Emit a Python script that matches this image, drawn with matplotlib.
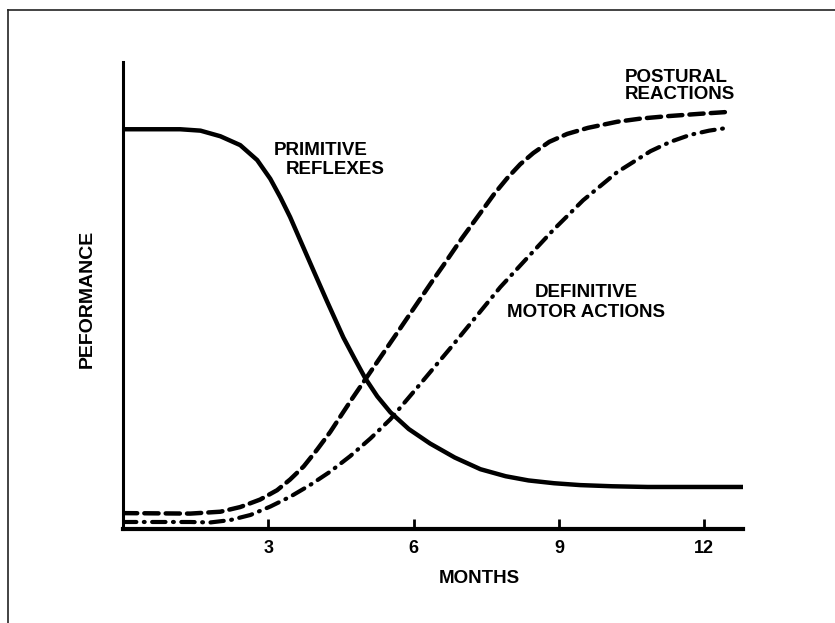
import matplotlib
matplotlib.use("Agg")
import matplotlib.pyplot as plt
from matplotlib.lines import Line2D

# months / performance
reflex_x = [0, 1.18, 1.60, 2.01, 2.42, 2.77, 3.04, 3.25, 3.45, 3.66, 3.93, 4.21,
            4.55, 4.78, 5.0, 5.25, 5.52, 5.9, 6.34, 6.85, 7.38, 7.90, 8.37, 8.9,
            9.44, 10.1, 10.83, 11.8, 12.81]
reflex_y = [85.6, 85.6, 85.3, 84.1, 82.2, 79.0, 75.0, 71.0, 66.8, 61.8, 55.4, 48.8,
            41.0, 36.5, 32.3, 28.4, 25.0, 21.4, 18.3, 15.3, 12.8, 11.3, 10.4, 9.8,
            9.4, 9.15, 9.0, 9.0, 9.0]

postural_x = [0, 1.39, 2.01, 2.42, 2.83, 3.18, 3.45, 3.73, 4.0, 4.28, 4.52, 4.73,
              5.0, 5.66, 6.40, 6.61, 7.0, 7.38, 7.66, 7.93, 8.2, 8.47, 8.8, 9.17,
              9.6, 10.2, 10.7, 11.24, 11.9, 12.48]
postural_y = [3.4, 3.3, 3.7, 4.7, 6.3, 8.3, 10.6, 13.4, 16.9, 20.8, 24.6, 27.9,
              32.0, 42.0, 53.3, 56.4, 62.3, 67.7, 71.7, 75.1, 78.1, 80.5, 82.9, 84.6,
              85.9, 87.2, 87.9, 88.4, 88.9, 89.3]

motor_x = [0, 1.39, 1.80, 2.21, 2.63, 3.04, 3.45, 3.86, 4.28, 4.69, 5.11, 5.52,
           6.10, 6.78, 7.3, 7.79, 8.35, 8.88, 9.50, 10.2, 10.89, 11.3, 11.71, 12.1,
           12.48]
motor_y = [1.5, 1.5, 1.4, 1.9, 3.0, 4.8, 6.9, 9.4, 12.3, 15.6, 19.4, 23.5,
           30.6, 39.0, 45.6, 51.8, 58.1, 64.0, 70.4, 76.4, 80.9, 82.9, 84.4, 85.3,
           85.9]

month_ticks = [3, 6, 9, 12]

plt.rcParams["font.family"] = ["Liberation Sans", "DejaVu Sans"]
plt.rcParams["font.weight"] = "bold"
fs_lab = 13.5

fig = plt.figure(figsize=(8.35, 6.23), dpi=100)
ax = fig.add_axes([123 / 835, 94 / 623, 620 / 835, 467 / 623])

ax.plot(reflex_x, reflex_y, color="black", lw=3.2,
        solid_capstyle="butt", solid_joinstyle="round")
ax.plot(postural_x, postural_y, color="black", lw=3.2,
        linestyle=(0, (3.2, 1.6)), dash_capstyle="round", dash_joinstyle="round")
ax.plot(motor_x, motor_y, color="black", lw=3.0,
        linestyle=(0, (3.2, 1.8, 0.2, 1.8)), dash_capstyle="round",
        dash_joinstyle="round")

ax.set_xlim(0, 12.8)
ax.set_ylim(0, 100)
for s in ["top", "right"]:
    ax.spines[s].set_visible(False)
ax.spines["left"].set_linewidth(2.2)
ax.spines["bottom"].set_linewidth(3)
ax.set_xticks(month_ticks)
ax.set_xticklabels([str(t) for t in month_ticks], fontsize=13, fontweight="bold")
ax.set_yticks([])
ax.tick_params(axis="x", direction="in", length=7.5, width=2, pad=8)

ax.set_xlabel("MONTHS", fontsize=fs_lab, fontweight="bold")
ax.xaxis.set_label_coords(0.574, -0.1165)
ax.xaxis.label.set_va("baseline")
ax.set_ylabel("PEFORMANCE", fontsize=14, fontweight="bold")
ax.yaxis.set_label_coords(-0.057, 0.4925)
ax.yaxis.label.set_va("center")

# curve labels
ax.text(3.11, 80.1, "PRIMITIVE", fontsize=fs_lab, fontweight="bold", va="baseline")
ax.text(3.37, 76.0, "REFLEXES", fontsize=fs_lab, fontweight="bold", va="baseline")
ax.text(10.35, 95.8, "POSTURAL", fontsize=fs_lab, fontweight="bold", va="baseline")
ax.text(10.35, 92.1, "REACTIONS", fontsize=fs_lab, fontweight="bold", va="baseline")
ax.text(9.56, 49.6, "DEFINITIVE", fontsize=fs_lab, fontweight="bold",
        va="baseline", ha="center")
ax.text(9.56, 45.3, "MOTOR ACTIONS", fontsize=fs_lab, fontweight="bold",
        va="baseline", ha="center")

# partial frame around the figure (top and left edges)
fig.add_artist(Line2D([7.5 / 835, 1.0], [1 - 10 / 623, 1 - 10 / 623],
                      transform=fig.transFigure, color="#222222", lw=1.2))
fig.add_artist(Line2D([7.5 / 835, 7.5 / 835], [0, 1 - 10 / 623],
                      transform=fig.transFigure, color="#222222", lw=1.2))

fig.savefig("out.png", dpi=100)
